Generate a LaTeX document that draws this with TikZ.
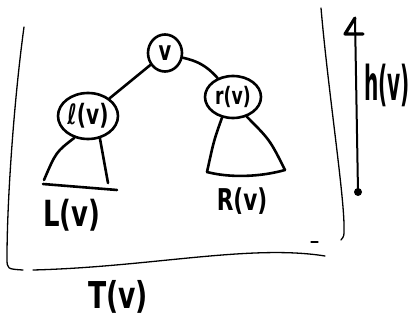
\documentclass[tikz,border=0pt]{standalone}
\usepackage{fontspec}
\setmainfont{DejaVu Sans}
\usetikzlibrary{shapes.geometric,arrows.meta}
% handwritten-looking label: #1 = font size, #2 = horizontal squeeze, #3 = text
\newcommand\handtext[3]{\scalebox{#2}[1]{\fontsize{#1}{#1}\selectfont\bfseries #3}}
\begin{document}
\begin{tikzpicture}[x=1pt,y=-1pt,
  pen/.style={line width=2.6pt,line cap=round,line join=round},
  thinpen/.style={line width=1.3pt,line cap=round,line join=round},
  bubble/.style={draw,pen,ellipse,inner sep=0pt},
  lab/.style={inner sep=0pt}]
\useasboundingbox (0,0) rectangle (414,320);

% tree nodes
\node[bubble,minimum width=34pt,minimum height=37pt] (v) at (165,53) {\handtext{27}{0.72}{v}};
\node[bubble,minimum width=60pt,minimum height=46pt] (l) at (88,116) {\handtext{28}{0.72}{ℓ(v)}};
\node[bubble,minimum width=56pt,minimum height=42pt] (r) at (233,97) {\handtext{24}{0.72}{r(v)}};

\draw[pen] (v) -- (l);
\draw[pen] (v) to[bend left=18] (r);

% left subtree
\coordinate (lt1) at (44,180);
\coordinate (lt2) at (108,183);
\coordinate (lb1) at (43,184);
\coordinate (lb2) at (117,190);
\draw[pen] (l.-122) .. controls (56,152) .. (lt1);
\draw[pen] (l.-62) -- (lt2);
\draw[pen] (lb1) -- (lb2);
\node[lab] (L) at (72,215) {\handtext{36}{0.72}{L(v)}};

% right subtree
\coordinate (rt1) at (207,172);
\coordinate (rt2) at (285,170);
\draw[pen] (r.-118) .. controls (214,140) .. (rt1);
\draw[pen] (r.-55) .. controls (270,140) .. (rt2);
\draw[pen] (rt1) .. controls (230,178) and (260,177) .. (rt2);
\node[lab] (R) at (242,201) {\handtext{30}{0.72}{R(v)}};

% frame around the whole tree
\coordinate (f1) at (24,27);
\coordinate (f2) at (23,270);
\coordinate (f3) at (33,270);
\coordinate (f4) at (325,256);
\coordinate (f5) at (321,8);
\coordinate (f6) at (341,240);
\draw[thinpen] (f1) .. controls (14,100) and (7,200) .. (7,258) .. controls (7,269) .. (f2);
\draw[thinpen] (f3) .. controls (150,267) and (250,244) .. (f4);
\draw[thinpen] (f5) .. controls (328,90) and (345,200) .. (344,230) .. controls (344,236) .. (f6);
\coordinate (d1) at (311,242);
\coordinate (d2) at (318,242);
\draw[thinpen] (d1) -- (d2);
\node[lab] (T) at (118,297) {\handtext{37}{0.72}{T(v)}};

% height arrow with a hand-drawn head
\coordinate (hb) at (358,192);
\coordinate (ht) at (355,18);
\coordinate (hl) at (345,34);
\coordinate (hr) at (363,34);
\draw[line width=2pt,line cap=round] (hb) -- (ht);
\draw[line width=3.2pt,line cap=round,line join=round] (ht) -- (hl) -- (hr);
\fill (hb) circle (4);
\node[lab] (h) at (387,85) {\handtext{48}{0.42}{h(v)}};
\end{tikzpicture}
\end{document}
